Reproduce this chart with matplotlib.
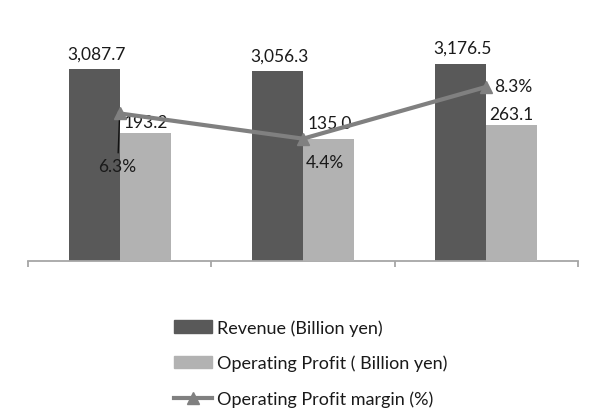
import matplotlib
matplotlib.use("Agg")
import matplotlib.pyplot as plt
from matplotlib.patches import Patch
from matplotlib.lines import Line2D
import numpy as np

categories = ["FY 2020", "FY 2021", "FY 2022"]
revenue = [3087.7, 3056.3, 3176.5]
op_profit = [193.2, 135.0, 263.1]
op_margin = [6.3, 4.4, 8.3]
revenue_labels = ["3,087.7", "3,056.3", "3,176.5"]
profit_labels = ["193.2", "135.0", "263.1"]
margin_labels = ["6.3%", "4.4%", "8.3%"]
legend_labels = ["Revenue (Billion yen)", "Operating Profit ( Billion yen)", "Operating Profit margin (%)"]

FONT = "Lato"
FS = 13
FSN = 12.5
TXT = "#1a1a1a"
DARK = "#595959"
LIGHT = "#b2b2b2"
LINEC = "#808080"

plt.rcParams["font.family"] = [FONT, "DejaVu Sans"]

fig = plt.figure(figsize=(5.9, 4.14), dpi=100)
W, H = 590, 414
ax_left, ax_right, ax_bottom, ax_top = 28, 578, 262, 30
ax = fig.add_axes([ax_left / W, 1 - ax_bottom / H, (ax_right - ax_left) / W, (ax_bottom - ax_top) / H])
ax2 = ax.twinx()
ax3 = ax.twinx()

x = np.arange(len(categories))
bw = 0.278

# axis ranges (styling of the distorted original chart)
rev_lim = (0, 3735)
prof_lim = (-935, 1106)
pct_lim = (-4.8, 12.65)

ax.set_xlim(-0.5, len(categories) - 0.5)
ax.set_ylim(*rev_lim)
ax2.set_ylim(*prof_lim)
ax3.set_ylim(*pct_lim)

rev_bars = ax.bar(x - bw / 2, revenue, width=bw, color=DARK, zorder=2)
prof_bars = ax2.bar(x + bw / 2, np.array(op_profit) - prof_lim[0], bottom=prof_lim[0],
                    width=bw, color=LIGHT, zorder=2)
ax3.plot(x, op_margin, color=LINEC, lw=3, marker="^", ms=9, zorder=5)

# labels
for xi, v, lab in zip(x, revenue, revenue_labels):
    ax.annotate(lab, (xi - bw / 2, v), xytext=(2, 16), textcoords="offset pixels",
                ha="center", va="center", fontsize=FSN, color=TXT)
prof_off = [(1, 11), (1, 16), (0, 11)]
for xi, v, lab, off in zip(x, op_profit, profit_labels, prof_off):
    ax2.annotate(lab, (xi + bw / 2, v), xytext=off, textcoords="offset pixels",
                 ha="center", va="center", fontsize=FSN, color=TXT)
pct_off = [(-2, -53), (22, -23), (27, 1)]
for i, (xi, v, lab, off) in enumerate(zip(x, op_margin, margin_labels, pct_off)):
    if i == 0:
        ax3.annotate(lab, (xi, v), xytext=off, textcoords="offset pixels",
                     ha="center", va="center", fontsize=FSN, color=TXT,
                     arrowprops=dict(arrowstyle="-", color="#111111", lw=1,
                                     shrinkA=2, shrinkB=3))
    else:
        ax3.annotate(lab, (xi, v), xytext=off, textcoords="offset pixels",
                     ha="center", va="center", fontsize=FSN, color=TXT)

for a in (ax, ax2, ax3):
    for s in ("top", "right", "left"):
        a.spines[s].set_visible(False)
    a.spines["bottom"].set_visible(a is ax)
    a.set_yticks([])
ax.spines["bottom"].set_color("#a6a6a6")
ax.spines["bottom"].set_linewidth(1.3)
ax.set_xticks(x)
ax.set_xticklabels(categories, fontsize=FS, color=TXT)
ax.tick_params(axis="x", which="major", length=0, pad=12)
ax.set_xticks(np.arange(len(categories) + 1) - 0.5, minor=True)
ax.tick_params(axis="x", which="minor", length=4.5, width=1.3, color="#a6a6a6")
ax2.set_xticks([])
ax3.set_xticks([])

handles = [Patch(color=DARK), Patch(color=LIGHT),
           Line2D([], [], color=LINEC, lw=3, marker="^", ms=8)]
fig.legend(handles, legend_labels, loc="upper left", bbox_to_anchor=(174 / W, 1 - 320 / H),
           frameon=False, fontsize=FS, handlelength=2.1, handletextpad=0.28,
           labelspacing=1.07, borderpad=0, borderaxespad=0, labelcolor=TXT)

fig.savefig("out.png", dpi=100)
